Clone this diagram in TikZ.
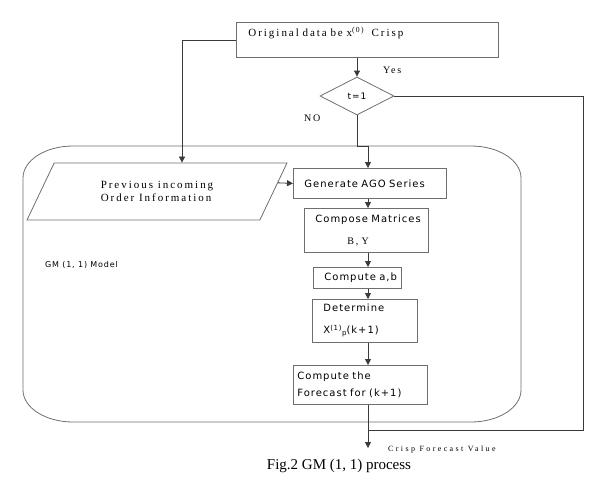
\documentclass[tikz,border=0pt]{standalone}
\usepackage{fontspec}
\setmainfont{Liberation Serif}
\newfontfamily\rmspaced[LetterSpace=18]{Liberation Serif}
\newfontfamily\rmwide[LetterSpace=30]{Liberation Serif}
\newfontfamily\sfspaced[LetterSpace=10]{DejaVu Sans}
\usetikzlibrary{arrows.meta, shapes.geometric, calc}
\definecolor{fline}{HTML}{6E6E6E}
\definecolor{fwire}{HTML}{3A3A3A}
\tikzset{
  procbox/.style={draw=fline, line width=0.8pt, anchor=north west, align=left,
                  inner xsep=11pt, inner ysep=0pt,
                  font=\sfspaced\fontsize{10}{17}\selectfont},
  decbox/.style={draw=fline, line width=0.8pt, shape=diamond, inner sep=0pt,
                 minimum width=74pt, minimum height=38pt,
                 font=\sfspaced\fontsize{9}{11}\selectfont},
  iobox/.style={draw=fline, line width=0.8pt, shape=trapezium,
                trapezium left angle=36.9, trapezium right angle=143.1,
                trapezium stretches body, inner sep=0pt, align=left,
                font=\rmspaced\fontsize{11}{13}\selectfont},
  arr/.style={-{Triangle[length=6pt,width=6pt]}, line width=0.8pt, fwire},
  wire/.style={line width=0.8pt, fwire},
  lbl/.style={inner sep=0pt, font=\rmspaced\fontsize{10}{12}\selectfont},
}
\begin{document}
\begin{tikzpicture}[x=1pt, y=-1pt]
  \useasboundingbox (0,0) rectangle (597,479);

  %% ── GM (1,1) region ──
  \draw[fline, line width=0.8pt]
    (73,146) -- (471,146) .. controls (498.6,146) and (521,160.3) .. (521,178)
    -- (521,390) .. controls (521,407.7) and (498.6,422) .. (471,422)
    -- (73,422) .. controls (45.4,422) and (23,407.7) .. (23,390)
    -- (23,178) .. controls (23,160.3) and (45.4,146) .. (73,146) -- cycle;
  \node[anchor=west, inner sep=0pt, font=\sfspaced\fontsize{8}{10}\selectfont]
    (gmlbl) at (45,265) {GM (1, 1) Model};

  %% ── input and test ──
  \node[procbox, inner xsep=12pt, inner ysep=3pt, text width=238pt,
        text height=11pt, text depth=18pt, font=\rmspaced\fontsize{11}{13}\selectfont]
    (orig) at (236,22) {\mbox{Original data be x\textsuperscript{(0)}~~Crisp}};
  \node[decbox] (dec) at (357,96) {t=1};
  \node[lbl, anchor=west] (yes) at (383,70) {Yes};
  \node[lbl, anchor=west] (no) at (304,118) {NO};
  \node[iobox, minimum width=260pt, minimum height=57pt]
    (prev) at (157,191.5) {Previous incoming\\Order Information};

  %% ── process column ──
  \coordinate (spine) at (368,0);
  \coordinate (gmin) at (368,146);
  \node[procbox, text width=131pt, minimum height=30pt]
    (ago) at (293,168) {\mbox{Generate AGO Series}};
  \node[procbox, text width=102pt, minimum height=44pt]
    (comp) at (304,208) {\mbox{Compose Matrices}\\[5pt]\hspace*{32pt}{\rmspaced B, Y}};
  \node[procbox, text width=66pt, minimum height=21pt]
    (ab) at (313,267) {\mbox{Compute a,b}};
  \node[procbox, text width=83pt, minimum height=43pt]
    (det) at (312,299) {Determine\\[5pt]\mbox{X\textsuperscript{(1)}\raisebox{-2pt}{\fontsize{7}{8}\selectfont p}(k+1)}};
  \node[procbox, inner xsep=4pt, text width=126pt, minimum height=39pt]
    (fc) at (293,365) {\mbox{Compute the}\\\mbox{Forecast for (k+1)}};
  \coordinate (loopc) at (583,430);
  \coordinate (outp) at (368,448);
  \node[anchor=west, inner sep=0pt, font=\rmwide\fontsize{8}{10}\selectfont]
    (crisp) at (388,450) {Crisp Forecast Value};

  %% ── connectors ──
  \draw[arr] (orig.west) -| (prev.north -| 182,0);
  \draw[arr] (orig.south -| dec.north) -- (dec.north);
  \draw[arr] (dec.south) |- (gmin) -- (ago.north -| gmin);
  \draw[arr] ($(prev.top right corner)!0.35!(prev.bottom right corner)$) -- (ago.west);
  \draw[arr] (ago.south -| spine) -- (comp.north -| spine);
  \draw[arr] (comp.south -| spine) -- (ab.north -| spine);
  \draw[arr] (ab.south -| spine) -- (det.north -| spine);
  \draw[arr] (det.south -| spine) -- (fc.north -| spine);
  \draw[arr] (fc.south -| spine) -- (outp);
  \draw[wire] (dec.east) -| (loopc) -- (loopc -| spine);

  %% ── caption ──
  \node[inner sep=0pt, font=\fontsize{15}{17}\selectfont] (cap) at (339,466)
    {Fig.2 GM (1, 1) process};
\end{tikzpicture}
\end{document}
